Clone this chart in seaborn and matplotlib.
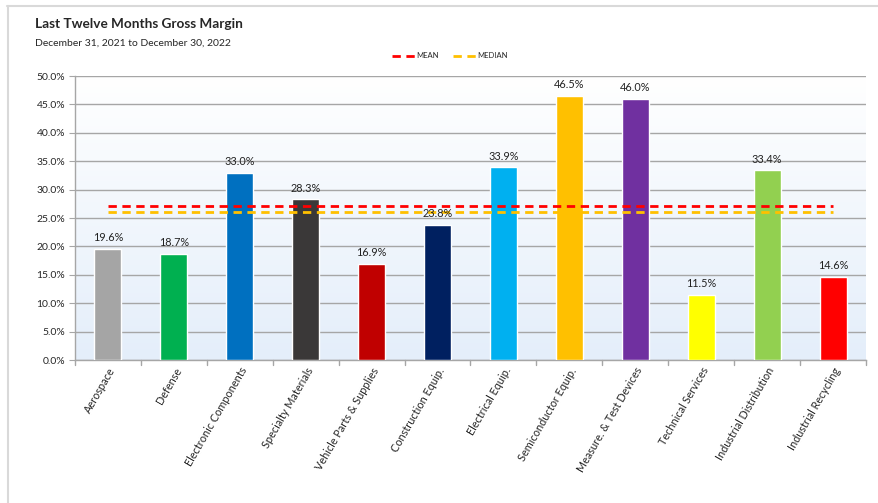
import numpy as np
import pandas as pd
import matplotlib
matplotlib.use("Agg")
import matplotlib.pyplot as plt
import seaborn as sns
from matplotlib.lines import Line2D

categories = ["Aerospace", "Defense", "Electronic Components", "Specialty Materials",
              "Vehicle Parts & Supplies", "Construction Equip.", "Electrical Equip.",
              "Semiconductor Equip.", "Measure. & Test Devices", "Technical Services",
              "Industrial Distribution", "Industrial Recycling"]
margin = [19.6, 18.7, 33.0, 28.3, 16.9, 23.8, 33.9, 46.5, 46.0, 11.5, 33.4, 14.6]
colors = ["#a5a5a5", "#00b050", "#0070c0", "#3a3838", "#c00000", "#002060",
          "#00b0f0", "#ffc000", "#7030a0", "#ffff00", "#92d050", "#ff0000"]

df = pd.DataFrame({"Category": categories, "Margin": margin})
mean_val = df["Margin"].mean()
median_val = df["Margin"].median()

sns.set_style("white")
plt.rcParams["font.family"] = ["Lato", "DejaVu Sans"]

fig = plt.figure(figsize=(8.79, 5.03), dpi=100)
ax = fig.add_axes([75/879, 1-360/503, (866-75)/879, (360-76)/503])

# gradient background: white at top, pale blue at bottom
grad = np.linspace(0, 1, 256).reshape(-1, 1)
cmap = matplotlib.colors.LinearSegmentedColormap.from_list("bg", ["#ffffff", "#e4eefa"])
ax.imshow(grad, extent=[-0.5, 11.5, 0, 50], aspect="auto", cmap=cmap, zorder=0, origin="upper")

sns.barplot(data=df, x="Category", y="Margin", hue="Category", palette=colors,
            legend=False, width=0.41, saturation=1, ax=ax, zorder=3)

ax.set_xlim(-0.5, 11.5)
ax.set_ylim(0, 50)
ax.set_yticks(np.arange(0, 50.1, 5))
ax.set_yticklabels([f"{v:.1f}%" for v in np.arange(0, 50.1, 5)], fontsize=7.5)
ax.yaxis.grid(True, color="#a6a6a6", lw=1.0, zorder=1)
ax.set_axisbelow(True)

for i, v in enumerate(margin):
    ax.text(i, v + 1.0, f"{v:.1f}%", ha="center", va="bottom", fontsize=7.8, color="#222222", zorder=5)

ax.hlines(mean_val, 0, 11, colors="#ff0000", linestyles=(0, (3, 2)), lw=2, zorder=4)
ax.hlines(median_val, 0, 11, colors="#ffc000", linestyles=(0, (3, 2)), lw=2, zorder=4)

ax.set_xticks(range(len(categories)))
ax.set_xticklabels(categories, rotation=60, ha="right", rotation_mode="anchor", fontsize=7.8)
ax.tick_params(axis="x", length=0, pad=4)
for b in np.arange(-0.5, 12, 1):
    ax.plot([b, b], [0, -0.9], color="#a6a6a6", lw=1, clip_on=False, zorder=2)
ax.tick_params(axis="y", length=4, color="#a6a6a6", left=True, pad=3)
ax.set_xlabel("")
ax.set_ylabel("")

for s in ["top", "right"]:
    ax.spines[s].set_visible(False)
for s in ["left", "bottom"]:
    ax.spines[s].set_color("#a6a6a6")
    ax.spines[s].set_linewidth(1.0)

fig.text(35/879, 1-28/503, "Last Twelve Months Gross Margin", fontsize=9.8, fontweight="bold", va="baseline")
fig.text(35/879, 1-46/503, "December 31, 2021 to December 30, 2022", fontsize=7.5, va="baseline")

handles = [Line2D([], [], color="#ff0000", lw=2, ls=(0, (3, 2))),
           Line2D([], [], color="#ffc000", lw=2, ls=(0, (3, 2)))]
fig.legend(handles, ["MEAN", "MEDIAN"], loc="center", bbox_to_anchor=(450/879, 1-56/503),
           ncol=2, frameon=False, fontsize=5.5, handlelength=3, handletextpad=0.2, columnspacing=1.8)

# chart border
fig.add_artist(Line2D([7/879, 1], [1-6/503, 1-6/503], color="#d9d9d9", lw=1.5))
fig.add_artist(Line2D([8/879, 8/879], [0, 1-6/503], color="#d9d9d9", lw=1.5))

fig.savefig("out.png", dpi=100)
